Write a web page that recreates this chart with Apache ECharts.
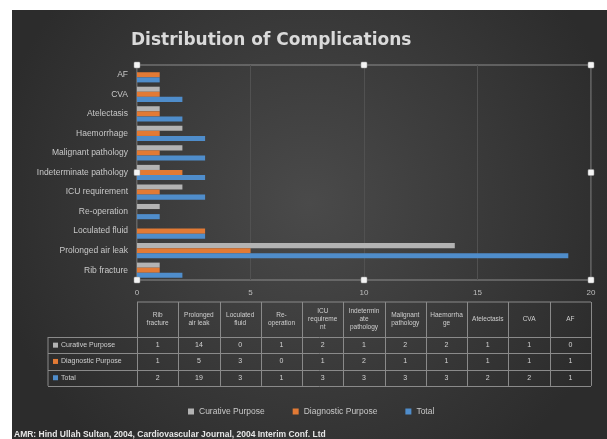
<!DOCTYPE html>
<html>
<head>
<meta charset="utf-8">
<script src="https://cdn.jsdelivr.net/npm/echarts@6/dist/echarts.min.js"></script>
<style>
html, body { margin: 0; padding: 0; background: #fff; }
#main { width: 607px; height: 439px; }
</style>
</head>
<body>
<div id="main"></div>
<script>
var mychart = echarts.init(document.getElementById('main'));

// categories, bottom to top on the y axis (same order as the table columns)
var categories = ['Rib fracture', 'Prolonged air leak', 'Loculated fluid', 'Re-operation',
    'ICU requirement', 'Indeterminate pathology', 'Malignant pathology', 'Haemorrhage',
    'Atelectasis', 'CVA', 'AF'];
// the same names, wrapped as in the data table header
var tableHeaders = ['Rib\nfracture', 'Prolonged\nair leak', 'Loculated\nfluid', 'Re-\noperation',
    'ICU\nrequireme\nnt', 'Indetermin\nate\npathology', 'Malignant\npathology', 'Haemorrha\nge',
    'Atelectasis', 'CVA', 'AF'];

var curative   = [1, 14, 0, 1, 2, 1, 2, 2, 1, 1, 0];
var diagnostic = [1, 5, 3, 0, 1, 2, 1, 1, 1, 1, 1];
var total      = [2, 19, 3, 1, 3, 3, 3, 3, 2, 2, 1];

var seriesNames = ['Curative Purpose', 'Diagnostic Purpose', 'Total'];
var colors = ['#b3b3b3', '#e27a35', '#4f8dcb'];
var xMax = 20;
var xStep = 5;

const TITLE = 'Distribution of Complications';
const CAPTION = 'AMR: Hind Ullah Sultan, 2004, Cardiovascular Journal, 2004 Interim Conf. Ltd';

// plot area in pixels
const G_LEFT = 137, G_TOP = 65, G_RIGHT = 591, G_BOTTOM = 280;
// data table rows
const T_TOP = 302, T_HEAD = 337, T_ROW = 16.3, T_LEFT = 48;

var rows = [curative, diagnostic, total];

function buildTable() {
    var els = [];
    var lineStyle = { stroke: '#8a8a8a', lineWidth: 1 };
    var ncol = categories.length;
    var colW = (G_RIGHT - G_LEFT) / ncol;
    var bottom = T_HEAD + T_ROW * rows.length;
    // horizontal lines
    els.push({ type: 'line', shape: { x1: G_LEFT, y1: T_TOP, x2: G_RIGHT, y2: T_TOP }, style: lineStyle });
    for (let r = 0; r <= rows.length; r++) {
        let y = Math.round(T_HEAD + T_ROW * r) + 0.5;
        els.push({ type: 'line', shape: { x1: T_LEFT, y1: y, x2: G_RIGHT, y2: y }, style: lineStyle });
    }
    // vertical lines
    els.push({ type: 'line', shape: { x1: T_LEFT, y1: T_HEAD, x2: T_LEFT, y2: bottom }, style: lineStyle });
    for (let c = 0; c <= ncol; c++) {
        let x = Math.round(G_LEFT + colW * c) + 0.5;
        els.push({ type: 'line', shape: { x1: x, y1: T_TOP, x2: x, y2: bottom }, style: lineStyle });
    }
    // header texts
    for (let c = 0; c < ncol; c++) {
        els.push({
            type: 'text', x: G_LEFT + colW * (c + 0.5), y: (T_TOP + T_HEAD) / 2,
            style: {
                text: tableHeaders[c], fill: '#cfcfcf', fontSize: 6.5, lineHeight: 8,
                fontFamily: 'Liberation Sans', align: 'center', verticalAlign: 'middle'
            }
        });
    }
    // row headers and values
    for (let r = 0; r < rows.length; r++) {
        let cy = T_HEAD + T_ROW * (r + 0.5);
        els.push({ type: 'rect', shape: { x: T_LEFT + 5, y: cy - 2.5, width: 5, height: 5 }, style: { fill: colors[r] } });
        els.push({
            type: 'text', x: T_LEFT + 13, y: cy,
            style: { text: seriesNames[r], fill: '#cfcfcf', fontSize: 7, fontFamily: 'Liberation Sans', verticalAlign: 'middle' }
        });
        for (let c = 0; c < ncol; c++) {
            els.push({
                type: 'text', x: G_LEFT + colW * (c + 0.5), y: cy,
                style: {
                    text: String(rows[r][c]), fill: '#d5d5d5', fontSize: 7,
                    fontFamily: 'Liberation Sans', align: 'center', verticalAlign: 'middle'
                }
            });
        }
    }
    return els;
}

function buildHandles() {
    var els = [];
    var xs = [G_LEFT, (G_LEFT + G_RIGHT) / 2, G_RIGHT];
    var ys = [G_TOP, (G_TOP + G_BOTTOM) / 2, G_BOTTOM];
    for (let i = 0; i < 3; i++) {
        for (let j = 0; j < 3; j++) {
            if (i == 1 && j == 1) continue;
            els.push({
                type: 'rect', z: 50,
                shape: { x: xs[i] - 3, y: ys[j] - 3, width: 6, height: 6, r: 1 },
                style: { fill: '#f4f4f4', stroke: '#9a9a9a', lineWidth: 0.5 }
            });
        }
    }
    return els;
}

var background = {
    type: 'rect', z: -10, silent: true,
    shape: { x: 12, y: 10, width: 595, height: 429 },
    style: {
        fill: new echarts.graphic.RadialGradient(0.5, 0.45, 0.75, [
            { offset: 0, color: '#4a4a4a' },
            { offset: 1, color: '#2c2c2c' }
        ])
    }
};

var caption = {
    type: 'text', x: 14, y: 430,
    style: { text: CAPTION, fill: '#e6e6e6', fontSize: 8.5, fontWeight: 'bold', fontFamily: 'Liberation Sans' }
};

var series = [];
for (let i = 0; i < rows.length; i++) {
    series.push({
        name: seriesNames[i],
        type: 'bar',
        data: rows[i],
        barGap: '0%',
        barCategoryGap: '22%',
        itemStyle: { color: colors[i] }
    });
}

var option = {
    backgroundColor: '#ffffff',
    animation: false,
    title: {
        text: TITLE,
        left: 126, top: 27,
        textStyle: { color: '#dadada', fontSize: 17, fontWeight: 'bold', fontFamily: 'DejaVu Sans' }
    },
    legend: {
        data: seriesNames,
        left: 183, top: 402,
        icon: 'rect',
        itemWidth: 6, itemHeight: 6, itemGap: 28,
        textStyle: { color: '#c8c8c8', fontSize: 8.5, fontFamily: 'Liberation Sans' }
    },
    grid: {
        left: G_LEFT, top: G_TOP, right: 607 - G_RIGHT, bottom: 439 - G_BOTTOM,
        show: true, borderColor: '#8c8c8c', borderWidth: 1, backgroundColor: 'transparent'
    },
    xAxis: {
        type: 'value', min: 0, max: xMax, interval: xStep,
        axisLine: { show: false }, axisTick: { show: false },
        axisLabel: { color: '#bdbdbd', fontSize: 8, margin: 9, fontFamily: 'Liberation Sans' },
        splitLine: { show: true, lineStyle: { color: '#515151', width: 1 } }
    },
    yAxis: {
        type: 'category', data: categories,
        axisLine: { show: false }, axisTick: { show: false },
        axisLabel: { color: '#c8c8c8', fontSize: 8.5, margin: 9, fontFamily: 'Liberation Sans' }
    },
    graphic: [background, caption].concat(buildTable(), buildHandles()),
    series: series
};

mychart.setOption(option);
</script>
</body>
</html>
